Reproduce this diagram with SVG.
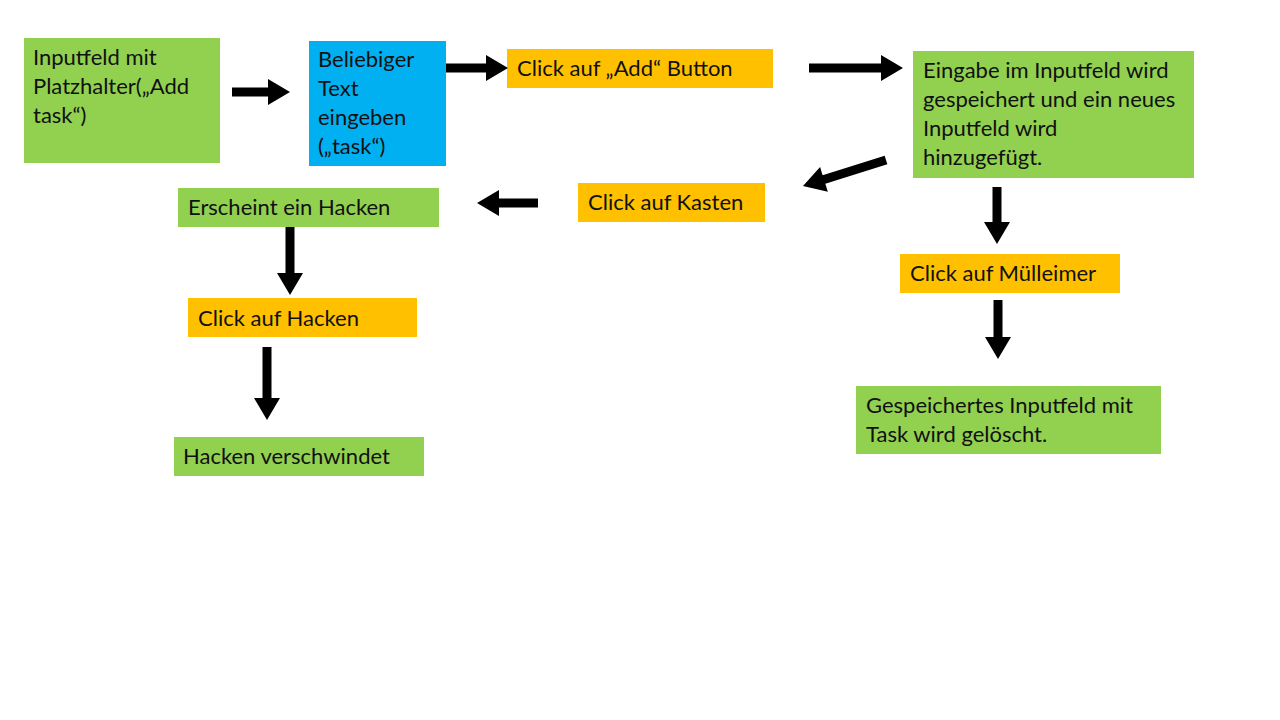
<svg xmlns="http://www.w3.org/2000/svg" width="1280" height="720" viewBox="0 0 1280 720">
<style>
.g{fill:#92D050}.b{fill:#00B0F0}.o{fill:#FFC000}
text{font-family:Lato,"Open Sans","Liberation Sans",sans-serif;font-size:22px;fill:#111}
.arr{fill:#000}
</style>
<rect width="1280" height="720" fill="#fff"/>
<g id="n1"><rect class="g" x="24" y="38" width="196" height="125"/><text x="33" y="65">Inputfeld mit</text><text x="33" y="94">Platzhalter(„Add</text><text x="33" y="123">task“)</text></g>
<g id="n2"><rect class="b" x="309" y="41" width="137" height="125"/><text x="318" y="67">Beliebiger</text><text x="318" y="96">Text</text><text x="318" y="125">eingeben</text><text x="318" y="154">(„task“)</text></g>
<g id="n3"><rect class="o" x="507" y="49" width="266" height="39"/><text x="517" y="76">Click auf „Add“ Button</text></g>
<g id="n4"><rect class="g" x="913" y="51" width="281" height="127"/><text x="923" y="78">Eingabe im Inputfeld wird</text><text x="923" y="107">gespeichert und ein neues</text><text x="923" y="136">Inputfeld wird</text><text x="923" y="165">hinzugefügt.</text></g>
<g id="n5"><rect class="o" x="578" y="183" width="187" height="39"/><text x="588" y="210">Click auf Kasten</text></g>
<g id="n6"><rect class="g" x="178" y="188" width="261" height="39"/><text x="188" y="215">Erscheint ein Hacken</text></g>
<g id="n7"><rect class="o" x="188" y="298" width="229" height="39"/><text x="198" y="326">Click auf Hacken</text></g>
<g id="n8"><rect class="g" x="174" y="437" width="250" height="39"/><text x="183" y="464">Hacken verschwindet</text></g>
<g id="n9"><rect class="o" x="900" y="254" width="220" height="39"/><text x="910" y="281">Click auf Mülleimer</text></g>
<g id="n10"><rect class="g" x="856" y="386" width="305" height="68"/><text x="866" y="413">Gespeichertes Inputfeld mit</text><text x="866" y="442">Task wird gelöscht.</text></g>
<g id="connectors">
<polygon class="arr" points="232,87.5 268,87.5 268,79 290,92 268,105 268,96.5 232,96.5"/>
<polygon class="arr" points="446,63.5 486,63.5 486,55 508,68 486,81 486,72.5 446,72.5"/>
<polygon class="arr" points="809,63.5 881,63.5 881,55 903,68 881,81 881,72.5 809,72.5"/>
<polygon class="arr" transform="translate(886,160) rotate(162.6)" points="0,-4.5 65,-4.5 65,-13 87,0 65,13 65,4.5 0,4.5"/>
<polygon class="arr" points="538,198.5 499,198.5 499,190 477,203 499,216 499,207.5 538,207.5"/>
<polygon class="arr" points="285.5,227 285.5,273 277,273 290,295 303,273 294.5,273 294.5,227"/>
<polygon class="arr" points="262.5,347 262.5,398 254,398 267,420 280,398 271.5,398 271.5,347"/>
<polygon class="arr" points="992.5,187 992.5,222 984,222 997,244 1010,222 1001.5,222 1001.5,187"/>
<polygon class="arr" points="993.5,300 993.5,337 985,337 998,359 1011,337 1002.5,337 1002.5,300"/>
</g>
</svg>
